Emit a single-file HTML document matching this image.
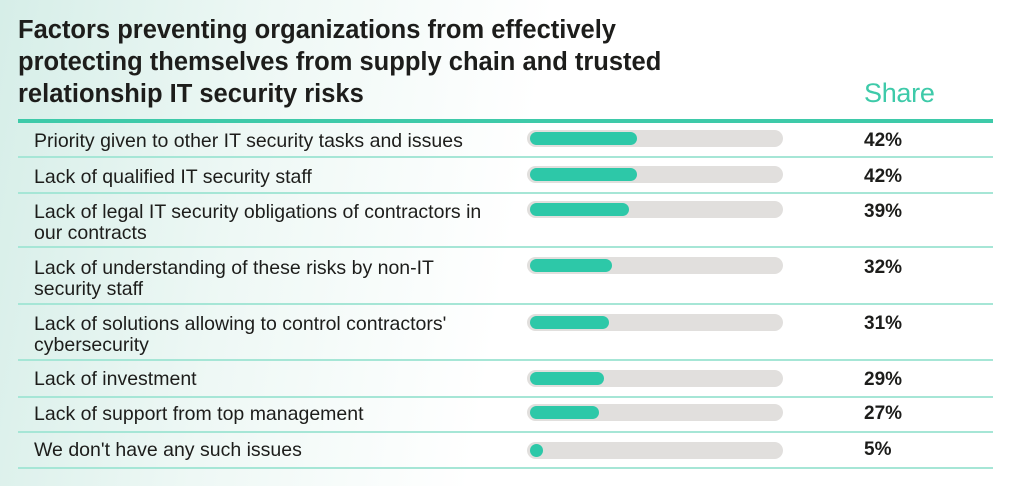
<!DOCTYPE html>
<html><head><style>
body{margin:0;width:1024px;height:486px;overflow:hidden;font-family:"Liberation Sans",sans-serif;
background:linear-gradient(100deg,#d6eee8 0%,#eef8f5 25%,#ffffff 50%,#ffffff 100%);position:relative}
.t{position:absolute;left:18px;top:14px;font-size:25.5px;font-weight:bold;line-height:32px;color:#1d1d1b;letter-spacing:0}
.sh{position:absolute;left:864px;top:78px;font-size:27px;color:#3ecaa9;letter-spacing:-0.3px}
.hl{position:absolute;left:18px;width:975px;height:4px;top:119px;background:#3ecaa9}
.ln{position:absolute;left:18px;width:975px;height:2px;background:#a6e6d6}
.lb{position:absolute;left:34px;font-size:19.5px;color:#1d1d1b;line-height:21px;letter-spacing:0}
.tr{position:absolute;left:527px;width:256px;height:17px;border-radius:9px;background:#e1dfdd}
.f{position:absolute;left:3px;top:2px;height:13px;border-radius:7px;background:#2dc8a8}
.v{position:absolute;left:864px;font-size:19px;font-weight:bold;color:#1d1d1b}
</style></head><body>
<div class="t">Factors preventing organizations from effectively<br>protecting themselves from supply chain and trusted<br>relationship IT security risks</div>
<div class="sh">Share</div>
<div class="hl"></div>
<div class="ln" style="top:156px"></div><div class="ln" style="top:192px"></div><div class="ln" style="top:246px"></div><div class="ln" style="top:303px"></div><div class="ln" style="top:359px"></div><div class="ln" style="top:396px"></div><div class="ln" style="top:431px"></div><div class="ln" style="top:467px"></div>

<div class="lb" style="top:131px">Priority given to other IT security tasks and issues</div>
<div class="tr" style="top:130px"><div class="f" style="width:107px"></div></div><div class="v" style="top:130px">42%</div>

<div class="lb" style="top:167px">Lack of qualified IT security staff</div>
<div class="tr" style="top:166px"><div class="f" style="width:107px"></div></div><div class="v" style="top:166px">42%</div>

<div class="lb" style="top:202px">Lack of legal IT security obligations of contractors in<br>our contracts</div>
<div class="tr" style="top:201px"><div class="f" style="width:99px"></div></div><div class="v" style="top:201px">39%</div>

<div class="lb" style="top:258px">Lack of understanding of these risks by non-IT<br>security staff</div>
<div class="tr" style="top:257px"><div class="f" style="width:82px"></div></div><div class="v" style="top:257px">32%</div>

<div class="lb" style="top:314px">Lack of solutions allowing to control contractors'<br>cybersecurity</div>
<div class="tr" style="top:314px"><div class="f" style="width:79px"></div></div><div class="v" style="top:313px">31%</div>

<div class="lb" style="top:369px">Lack of investment</div>
<div class="tr" style="top:370px"><div class="f" style="width:74px"></div></div><div class="v" style="top:369px">29%</div>

<div class="lb" style="top:404px">Lack of support from top management</div>
<div class="tr" style="top:404px"><div class="f" style="width:69px"></div></div><div class="v" style="top:403px">27%</div>

<div class="lb" style="top:440px">We don't have any such issues</div>
<div class="tr" style="top:442px"><div class="f" style="width:13px"></div></div><div class="v" style="top:439px">5%</div>
</body></html>
